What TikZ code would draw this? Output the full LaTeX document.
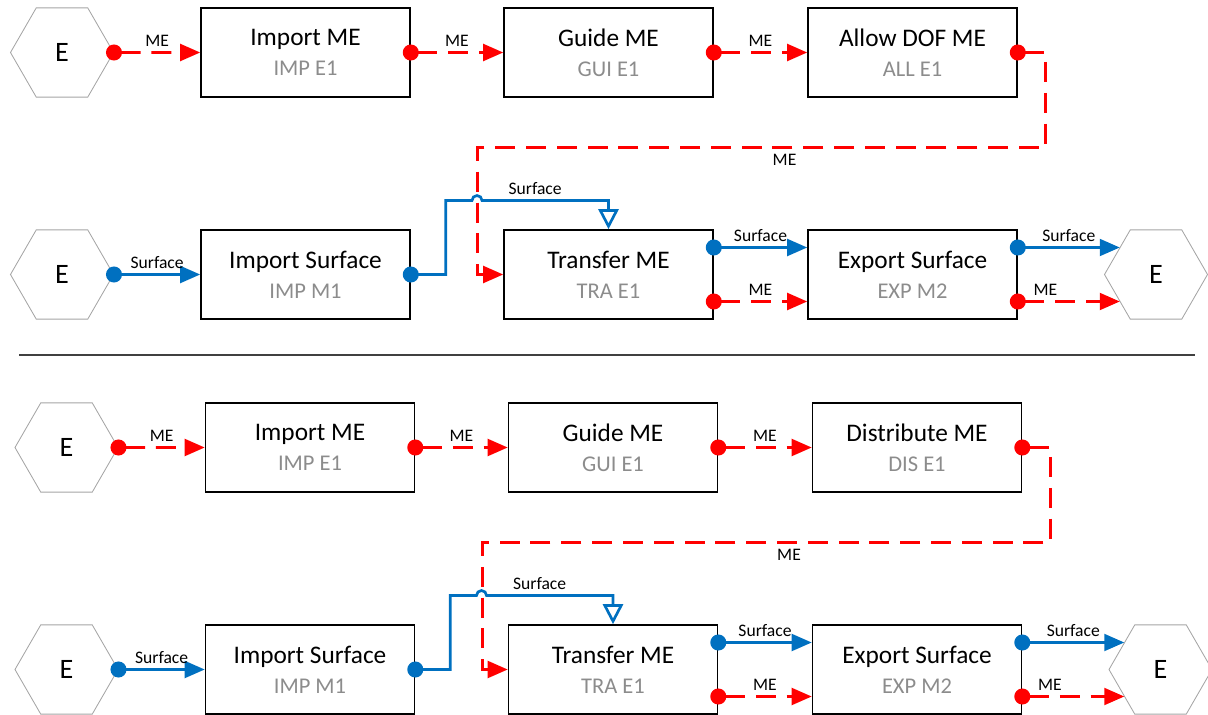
\documentclass[tikz,border=0pt]{standalone}
\usepackage{fontspec}
\setmainfont{Carlito}
\usepackage{xcolor}
\usepackage{tikz}
\usetikzlibrary{arrows.meta, shapes.geometric, calc}

\definecolor{mered}{RGB}{255,0,0}
\definecolor{surfblue}{RGB}{0,112,192}
\definecolor{subgray}{RGB}{140,140,140}
\definecolor{hexgray}{RGB}{165,165,165}
\newcommand{\subt}[1]{{\color{subgray}\fontsize{16}{21.3}\selectfont #1}}

\tikzset{
    blk/.style={draw, line width=1.1pt, minimum width=5.225cm, minimum height=2.225cm,
        align=center, inner sep=0pt, font=\fontsize{18}{21.3}\selectfont},
    hexa/.style={regular polygon, regular polygon sides=6, minimum size=2.575cm,
        inner sep=0pt, draw=hexgray, line width=0.6pt, font=\fontsize{20}{24}\selectfont},
    lbl/.style={text=black, font=\fontsize{12.5}{15}\selectfont, inner sep=3.5pt},
    meline/.style={mered, line width=1.9pt, dash pattern=on 0.5cm off 0.27cm,
        {Circle[length=0.4cm]}-{Triangle[length=0.5cm, width=0.42cm]}, shorten <=-0.2cm},
    srfline/.style={surfblue, line width=1.9pt,
        {Circle[length=0.4cm]}-{Triangle[length=0.5cm, width=0.42cm]}, shorten <=-0.2cm}
}

\begin{document}
\begin{tikzpicture}[x=0.025cm, y=-0.025cm]
    \useasboundingbox (0,0) rectangle (1208,715);

    % Hai sơ đồ giống nhau, chỉ khác khối thứ ba
    \foreach \s/\dx/\dy/\third/\thirdsub in {a/0/0/Allow DOF ME/ALL E1, b/4.5/395/Distribute ME/DIS E1}{
    \begin{scope}[shift={(\dx,\dy)}]
        % Hàng trên: ME
        \node[hexa] (hme\s) at (62,52.5) {E};
        \node[blk] (impme\s) at (305.5,52.5) {Import ME\\\subt{IMP E1}};
        \node[blk] (gui\s) at (608.5,52.5) {Guide ME\\\subt{GUI E1}};
        \node[blk] (dof\s) at (912.5,52.5) {\third\\\subt{\thirdsub}};

        % Hàng dưới: Surface
        \node[hexa] (hsf\s) at (62,274.5) {E};
        \node[blk] (imps\s) at (305.5,274.5) {Import Surface\\\subt{IMP M1}};
        \node[blk] (tra\s) at (608.5,274.5) {Transfer ME\\\subt{TRA E1}};
        \node[blk] (exps\s) at (912.5,274.5) {Export Surface\\\subt{EXP M2}};
        \node[hexa] (hout\s) at (1156,274.5) {E};

        \coordinate (su\s) at ($(exps\s.east)+(0,-27)$);
        \coordinate (me\s) at ($(exps\s.east)+(0,27)$);

        % Đường ME (đỏ, nét đứt)
        \draw[meline] (hme\s) -- node[lbl, above] {ME} (impme\s);
        \draw[meline] (impme\s) -- node[lbl, above] {ME} (gui\s);
        \draw[meline] (gui\s) -- node[lbl, above] {ME} (dof\s);
        \draw[meline] (dof\s.east) -- ++(28,0) -- ++(0,95)
            -- node[lbl, below, pos=0.46] {ME} ++(-568,0) |- (tra\s.west);
        \draw[meline] ($(tra\s.east)+(0,27)$) -- node[lbl, above] {ME} ($(exps\s.west)+(0,27)$);
        \draw[meline] (me\s) -- node[lbl, above, pos=0.27] {ME} (me\s -| hout\s.217);

        % Đường Surface (xanh)
        \draw[srfline] (hsf\s) -- node[lbl, above] {Surface} (imps\s);
        \draw[srfline, {Circle[length=0.4cm]}-{Triangle[open, length=0.5cm, width=0.5cm]}]
            (imps\s.east) -- ++(35,0) -- ++(0,-74) -- (472,200.5)
            arc[start angle=180, end angle=0, radius=0.125cm]
            -| node[lbl, above, pos=0.21] {Surface} (tra\s.north);
        \draw[srfline] ($(tra\s.east)+(0,-27)$) -- node[lbl, above] {Surface} ($(exps\s.west)+(0,-27)$);
        \draw[srfline] (su\s) -- node[lbl, above] {Surface} (su\s -| hout\s.143);
    \end{scope}
    }

    % Đường phân cách
    \draw[line width=1pt, black!75] (19,355) -- (1195,355);
\end{tikzpicture}
\end{document}
